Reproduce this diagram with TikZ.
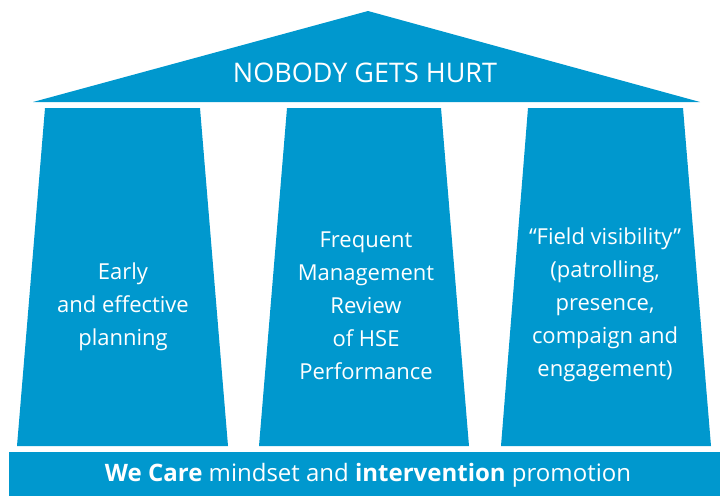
\documentclass[tikz,border=0pt]{standalone}
\usepackage{fontspec}
\setmainfont{Open Sans}
\usepackage{tikz}
\usetikzlibrary{positioning}

\begin{document}
\begin{tikzpicture}[x=1pt, y=-1pt]
  % Define colors
  \definecolor{eniblue}{RGB}{0,152,206}
  \tikzset{
    block/.style={fill=eniblue, draw=none},
    pillartext/.style={align=center, text=white, font=\fontsize{22}{33}\selectfont}
  }

  \useasboundingbox (0,0) rectangle (720,496);

  % Roof
  \fill[eniblue] (33,102) -- (368,11) -- (700,102) -- cycle;
  \node[text=white, font=\fontsize{27}{30}\selectfont] (roof) at (365,73) {NOBODY GETS HURT};

  % Pillars
  \fill[eniblue] (45,108) -- (200,108) -- (228,446) -- (17,446) -- cycle;
  \fill[eniblue] (287,108) -- (441,108) -- (469,446) -- (259,446) -- cycle;
  \fill[eniblue] (528,108) -- (683,108) -- (711,446) -- (501,446) -- cycle;

  \node[pillartext] (planning) at (123,307) {Early\\and effective\\planning};
  \node[pillartext] (review) at (366,306) {Frequent\\Management\\Review\\of HSE\\Performance};
  \node[pillartext] (field) at (605,305) {``Field visibility''\\(patrolling,\\presence,\\compaign and\\engagement)};

  % Base
  \fill[eniblue] (9,452) rectangle (720,496);
  \node[text=white, font=\fontsize{24}{28}\selectfont] (base) at (368,475)
    {\textbf{We Care} mindset and \textbf{intervention} promotion};

\end{tikzpicture}
\end{document}
